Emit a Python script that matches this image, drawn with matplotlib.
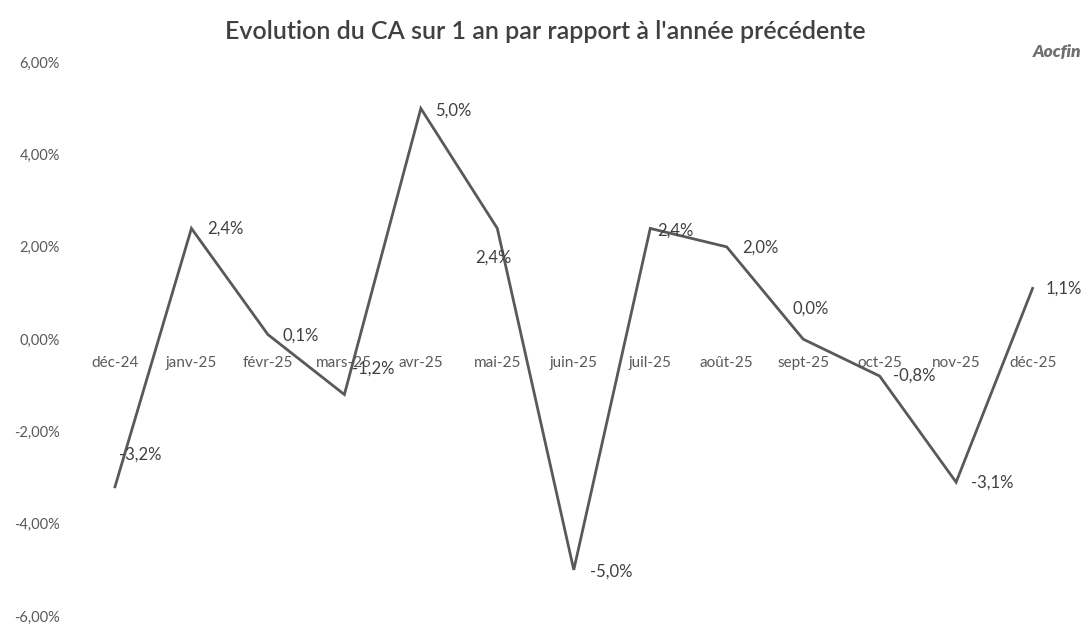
import matplotlib
matplotlib.use("Agg")
import matplotlib.pyplot as plt
from matplotlib.ticker import FuncFormatter

# Data
months = ["déc-24", "janv-25", "févr-25", "mars-25", "avr-25", "mai-25", "juin-25",
          "juil-25", "août-25", "sept-25", "oct-25", "nov-25", "déc-25"]
growth = [-3.2, 2.4, 0.1, -1.2, 5.0, 2.4, -5.0, 2.4, 2.0, 0.0, -0.8, -3.1, 1.1]
y_ticks = [-6, -4, -2, 0, 2, 4, 6]

# label offsets (pixels) relative to each point
label_offsets = [(25, 32), (34, 0), (33, -1), (29, 26), (32, -2), (-4, -29), (37, -2),
                 (25, -2), (34, -1), (8, 31), (35, 0), (36, 0), (31, 0)]

plt.rcParams['font.family'] = ['Lato', 'DejaVu Sans']

fig = plt.figure(figsize=(10.9, 6.35), dpi=100)
ax = fig.add_axes([0.0704, 0.0299, 0.912, 0.872])

x = list(range(len(months)))
ax.plot(x, growth, color='#595959', linewidth=2.0, solid_joinstyle='miter')

for i, v in enumerate(growth):
    dx, dy = label_offsets[i]
    ax.annotate(f"{v:.1f}%".replace('.', ','), (i, v), xytext=(dx, dy),
                textcoords='offset pixels', ha='center', va='center',
                fontsize=12, color='#404040')

ax.set_xlim(-0.5, len(months) - 0.5)
ax.set_ylim(-6, 6)
ax.set_yticks(y_ticks)
ax.yaxis.set_major_formatter(FuncFormatter(lambda v, p: f"{v:.2f}%".replace('.', ',')))
ax.set_xticks(x)
ax.set_xticklabels(months)

for s in ['top', 'right', 'left']:
    ax.spines[s].set_visible(False)
ax.spines['bottom'].set_position(('data', 0))
ax.spines['bottom'].set_visible(False)

ax.tick_params(axis='y', length=0, pad=12, labelsize=10.5, labelcolor='#595959')
ax.tick_params(axis='x', length=0, pad=12, labelsize=11, labelcolor='#595959')

fig.text(0.5, 0.95, "Evolution du CA sur 1 an par rapport à l'année précédente",
         ha='center', va='center', fontsize=18, color='#404040', fontweight='semibold')
fig.text(0.992, 0.918, "Aocfin", ha='right', va='center', fontsize=12.5,
         color='#6f6f6f', fontweight='heavy', style='italic')

fig.savefig("out.png", dpi=100)
